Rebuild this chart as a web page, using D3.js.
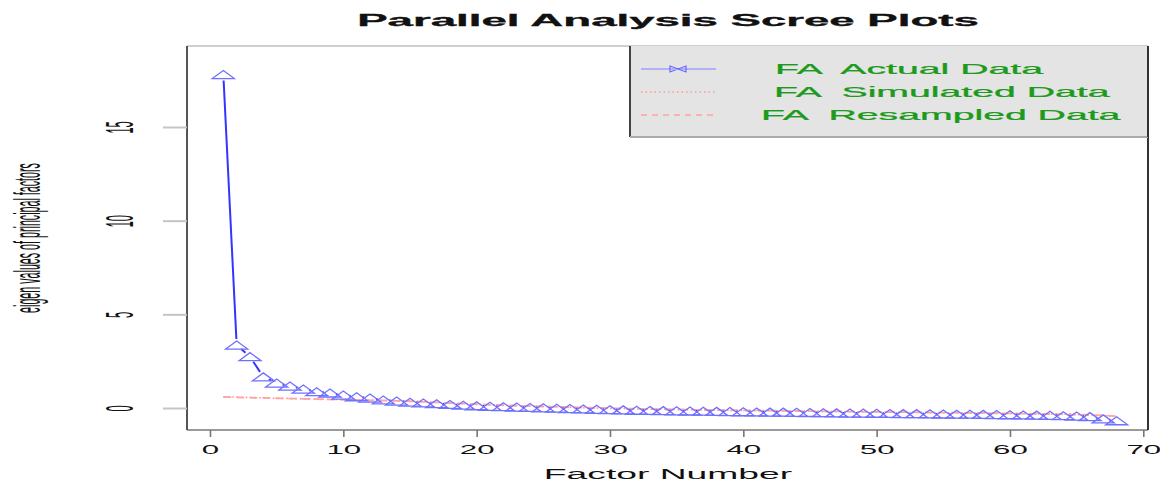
<!DOCTYPE html>
<html>
<head>
<meta charset="utf-8">
<script src="https://cdn.jsdelivr.net/npm/d3@7"></script>
<style>
  body { margin: 0; background: #fff; }
  svg { display: block; font-family: "Liberation Sans", Arial, sans-serif; }
  .keep-spaces { white-space: pre; }
</style>
</head>
<body>
<svg id="chart" width="1160" height="482"></svg>
<script>
// factor numbers 1..68 and the three eigenvalue series
const factors = [1,2,3,4,5,6,7,8,9,10,11,12,13,14,15,16,17,18,19,20,21,22,23,24,25,26,27,28,29,30,
  31,32,33,34,35,36,37,38,39,40,41,42,43,44,45,46,47,48,49,50,51,52,53,54,55,56,57,58,59,60,
  61,62,63,64,65,66,67,68];

const actualData = [17.80,3.36,2.74,1.66,1.33,1.17,1.01,0.87,0.80,0.69,0.60,0.53,0.43,0.37,0.31,
  0.27,0.23,0.19,0.15,0.12,0.09,0.07,0.05,0.03,0.01,-0.01,-0.03,-0.05,-0.07,-0.09,
  -0.10,-0.12,-0.13,-0.14,-0.15,-0.16,-0.17,-0.18,-0.19,-0.20,-0.21,-0.22,-0.22,-0.23,-0.24,
  -0.25,-0.26,-0.27,-0.27,-0.28,-0.29,-0.30,-0.30,-0.31,-0.32,-0.33,-0.33,-0.34,-0.35,-0.36,
  -0.37,-0.38,-0.39,-0.41,-0.43,-0.46,-0.58,-0.68];

const simulatedData = [0.60,0.58,0.56,0.54,0.52,0.51,0.49,0.48,0.46,0.45,0.43,0.42,0.40,0.39,0.37,
  0.34,0.30,0.27,0.23,0.20,0.17,0.14,0.12,0.10,0.08,0.06,0.04,0.02,0.00,-0.02,
  -0.03,-0.05,-0.06,-0.07,-0.08,-0.09,-0.10,-0.11,-0.12,-0.13,-0.14,-0.15,-0.15,-0.16,-0.17,
  -0.18,-0.19,-0.20,-0.20,-0.21,-0.22,-0.23,-0.23,-0.24,-0.25,-0.26,-0.26,-0.27,-0.28,-0.29,
  -0.30,-0.31,-0.32,-0.33,-0.35,-0.37,-0.40,-0.45];

const resampledData = [0.59,0.57,0.55,0.54,0.52,0.50,0.49,0.47,0.46,0.44,0.43,0.41,0.40,0.38,0.36,
  0.33,0.30,0.26,0.23,0.20,0.17,0.15,0.12,0.10,0.08,0.06,0.04,0.02,0.01,-0.01,
  -0.03,-0.04,-0.06,-0.07,-0.08,-0.09,-0.10,-0.11,-0.12,-0.13,-0.13,-0.14,-0.15,-0.16,-0.17,
  -0.18,-0.18,-0.19,-0.20,-0.21,-0.22,-0.22,-0.23,-0.24,-0.25,-0.25,-0.26,-0.27,-0.28,-0.29,
  -0.30,-0.31,-0.32,-0.33,-0.35,-0.37,-0.40,-0.44];

const xTicks = [0,10,20,30,40,50,60,70];
const yTicks = [0,5,10,15];
const legendLabels = ["FA  Actual Data", "FA  Simulated Data", "FA  Resampled Data"];

const titleText = "Parallel Analysis Scree Plots";
const xTitle = "Factor Number";
const yTitle = "eigen values of principal factors";

// layout (the picture is stretched sideways, so text gets scaled too)
const box = {left: 187, right: 1148, top: 46, bottom: 430};
const sxH = 2.5;    // horizontal stretch of normal text
const sxLeg = 2.8;  // legend text is a bit wider
const sxV = 3.5;    // stretch of rotated text

const svg = d3.select("#chart");

const x = d3.scaleLinear().domain([0, 70]).range([210, 1143.3]);
const y = d3.scaleLinear().domain([0, 15]).range([408, 127]);

// plot frame
svg.append("line").attr("x1", box.left).attr("x2", box.right).attr("y1", box.top).attr("y2", box.top)
  .attr("stroke", "#cfcfcf").attr("stroke-width", 2);
svg.append("line").attr("x1", box.left).attr("x2", box.right).attr("y1", box.bottom).attr("y2", box.bottom)
  .attr("stroke", "#9a9a9a").attr("stroke-width", 2);
svg.append("line").attr("x1", box.left).attr("x2", box.left).attr("y1", box.top).attr("y2", box.bottom)
  .attr("stroke", "#555").attr("stroke-width", 2);
svg.append("line").attr("x1", box.right).attr("x2", box.right).attr("y1", box.top).attr("y2", box.bottom)
  .attr("stroke", "#333").attr("stroke-width", 2);

// x axis
const xAxis = svg.append("g")
  .attr("transform", `translate(0,${box.bottom})`)
  .call(d3.axisBottom(x).tickValues(xTicks).tickSize(7).tickFormat(d3.format("d")));
xAxis.select(".domain").remove();
xAxis.selectAll(".tick line").attr("stroke", "#777").attr("stroke-width", 1.6);
xAxis.selectAll(".tick text")
  .attr("y", 24).attr("dy", 0)
  .attr("transform", `scale(${sxH},1)`)
  .attr("fill", "#111")
  .style("font-size", "12.5px");

// y axis
const yAxis = svg.append("g")
  .attr("transform", `translate(${box.left},0)`)
  .call(d3.axisLeft(y).tickValues(yTicks).tickSize(24).tickFormat(d3.format("d")));
yAxis.select(".domain").remove();
yAxis.selectAll(".tick line").attr("stroke", "#c4c4c4").attr("stroke-width", 2);
yAxis.selectAll(".tick text")
  .attr("x", 0).attr("y", 0).attr("dy", "0.358em")
  .attr("text-anchor", "middle")
  .attr("transform", `translate(-68,0) scale(${sxV},1) rotate(-90)`)
  .attr("fill", "#111")
  .style("font-size", "11px");

// red reference lines
const line = d3.line().x((d, i) => x(factors[i])).y(d => y(d));
svg.append("path").datum(simulatedData)
  .attr("d", line).attr("fill", "none")
  .attr("stroke", "#ff8c8c").attr("stroke-width", 1.6)
  .attr("stroke-dasharray", "1.5,3");
svg.append("path").datum(resampledData)
  .attr("d", line).attr("fill", "none")
  .attr("stroke", "#ffa3a3").attr("stroke-width", 1.8)
  .attr("stroke-dasharray", "8,5");

// actual data: R type="b" segments that stop short of the markers
const pts = actualData.map((v, i) => [x(factors[i]), y(v)]);
const gap = 6;
const segs = [];
for (let i = 1; i < pts.length; i++) {
  const [x0, y0] = pts[i - 1], [x1, y1] = pts[i];
  const len = Math.hypot(x1 - x0, y1 - y0);
  if (len > 2 * gap) {
    const ux = (x1 - x0) / len, uy = (y1 - y0) / len;
    segs.push([x0 + ux * gap, y0 + uy * gap, x1 - ux * gap, y1 - uy * gap]);
  }
}
svg.append("g").selectAll("line").data(segs).join("line")
  .attr("x1", d => d[0]).attr("y1", d => d[1]).attr("x2", d => d[2]).attr("y2", d => d[3])
  .attr("stroke", "#3434ff").attr("stroke-width", 2);

// triangle markers, wide and flat like the stretched picture
svg.append("g").selectAll("path").data(pts).join("path")
  .attr("d", d => `M${d[0] - 11},${d[1] + 4}L${d[0]},${d[1] - 4}L${d[0] + 11},${d[1] + 4}Z`)
  .attr("fill", "none").attr("stroke", "#7070ff").attr("stroke-width", 1.3);

// legend
const leg = {left: 630, top: 46, bottom: 137};
svg.append("rect").attr("x", leg.left).attr("y", leg.top)
  .attr("width", box.right - leg.left).attr("height", leg.bottom - leg.top)
  .attr("fill", "#e4e4e4");
svg.append("line").attr("x1", leg.left).attr("x2", leg.left).attr("y1", leg.top).attr("y2", leg.bottom)
  .attr("stroke", "#444").attr("stroke-width", 2);
svg.append("line").attr("x1", leg.left).attr("x2", box.right).attr("y1", leg.bottom).attr("y2", leg.bottom)
  .attr("stroke", "#aaa").attr("stroke-width", 2);
svg.append("line").attr("x1", box.right).attr("x2", box.right).attr("y1", leg.top).attr("y2", leg.bottom)
  .attr("stroke", "#333").attr("stroke-width", 2);

const rowY = [69, 92, 115];
const textStart = [775, 774, 761];
const lineStyles = [
  {stroke: "#a0a0ff", dash: null, width: 1.4},
  {stroke: "#ff9a9a", dash: "1.5,3", width: 1.6},
  {stroke: "#ffa3a3", dash: "6,5", width: 1.6}
];
legendLabels.forEach((lab, i) => {
  const st = lineStyles[i];
  svg.append("line").attr("x1", 641).attr("x2", 716).attr("y1", rowY[i]).attr("y2", rowY[i])
    .attr("stroke", st.stroke).attr("stroke-width", st.width)
    .attr("stroke-dasharray", st.dash);
  svg.append("g").attr("transform", `translate(${textStart[i]},${rowY[i] + 5}) scale(${sxLeg},1)`)
    .append("text").attr("class", "keep-spaces").text(lab)
    .attr("fill", "#1c9a1c")
    .attr("stroke", "#1c9a1c").attr("stroke-width", 0.25)
    .style("font-size", "14px");
});
// little bow-tie marker on the actual-data legend line
svg.append("path")
  .attr("d", "M670,66L686,72L686,66L670,72Z")
  .attr("fill", "none").attr("stroke", "#6a6aff").attr("stroke-width", 1.2);

// titles
svg.append("g").attr("transform", `translate(668,26) scale(2.85,1)`)
  .append("text").text(titleText)
  .attr("text-anchor", "middle").attr("font-weight", "bold")
  .attr("fill", "#111").attr("stroke", "#111").attr("stroke-width", 0.3)
  .style("font-size", "16px");

svg.append("g").attr("transform", `translate(668,479) scale(2.57,1)`)
  .append("text").text(xTitle)
  .attr("text-anchor", "middle")
  .attr("fill", "#111").style("font-size", "14.5px");

svg.append("g").attr("transform", `translate(30.5,238) scale(${sxV},1) rotate(-90)`)
  .append("text").text(yTitle)
  .attr("text-anchor", "middle").attr("dy", "0.26em")
  .attr("fill", "#111").style("font-size", "10.7px");
</script>
</body>
</html>
